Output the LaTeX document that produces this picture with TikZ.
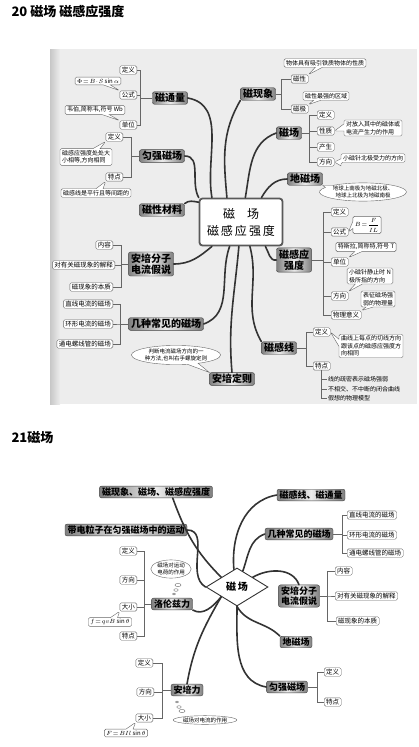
\documentclass[tikz,border=0pt]{standalone}
\usepackage{fontspec}
\setmainfont{Noto Sans CJK SC}
\usetikzlibrary{shapes.callouts,shapes.geometric}

\tikzset{
  topic/.style={draw=black!75, rounded corners=2pt, left color=black!50, right color=black!50, middle color=black!8,
    font=\bfseries\fontsize{10}{11.5}\selectfont, inner xsep=2.5pt, inner ysep=1.5pt, align=center},
  topicb/.style={topic, font=\bfseries\fontsize{9}{10.5}\selectfont},
  item/.style={draw=black!60, fill=white, rounded corners=1.5pt, font=\fontsize{6.5}{7.5}\selectfont, inner xsep=2pt, inner ysep=1.2pt},
  note/.style={rectangle callout, draw=black!60, fill=white, rounded corners=1.5pt, font=\fontsize{6}{7.5}\selectfont,
    inner xsep=2pt, inner ysep=1.5pt, align=left},
  oval/.style={ellipse callout, draw=black!60, fill=white, font=\fontsize{5.5}{6.8}\selectfont, inner sep=0.5pt, align=center},
  thought/.style={ellipse, draw=black!60, fill=white, font=\fontsize{5.5}{6.8}\selectfont, inner sep=0.5pt, align=center},
  link/.style={draw=black!60, line width=0.5pt},
  branch/.style={draw=black!80, line width=1.6pt, line cap=round},
  heading/.style={font=\bfseries\fontsize{13}{15}\selectfont, anchor=west}
}

\begin{document}
\begin{tikzpicture}[x=1pt, y=-1pt]
  \useasboundingbox (0,0) rectangle (419,747);

  % 20 磁场 磁感应强度
  \node[heading] (title1) at (8,12) {20 磁场 磁感应强度};
  \fill[black!7] (50,49) rectangle (417,404);
  \shade[left color=black!22, right color=black!7] (50,49) rectangle (60,404);

  \node[draw=black!65, line width=1.8pt, rounded corners=3pt, fill=white, minimum width=83pt, minimum height=47pt,
    align=center, font=\fontsize{12}{17}\selectfont] (hub) at (241,222) {磁\quad 场\\磁\,感\,应\,强\,度};

  \node[topic] (ct) at (170,98) {磁通量};
  \node[topic] (yq) at (162,156) {匀强磁场};
  \node[topic] (xc) at (162,210) {磁性材料};
  \node[topic] (ap) at (151,264) {安培分子\\电流假说};
  \node[topic] (jz) at (166,324) {几种常见的磁场};
  \node[topic] (ad) at (232,379) {安培定则};
  \node[topic] (gx) at (279,348) {磁感线};
  \node[topic] (gy) at (294,260) {磁感应\\强度};
  \node[topic] (dc) at (305,179) {地磁场};
  \node[topic] (cc) at (289,133) {磁场};
  \node[topic] (xx) at (258,94) {磁现象};

  % 分支
  \draw[branch] (ct.east) to[out=-10,in=100] (hub.140);
  \draw[branch] (yq.east) to[out=0,in=120] (hub.150);
  \draw[branch] (xc.north east) to[out=40,in=170] (hub.155);
  \draw[branch] (xx.south west) to[out=240,in=95] (hub.120);
  \draw[branch] (cc.west) to[out=200,in=80] (hub.80);
  \draw[branch] (dc.west) to[out=180,in=60] (hub.50);
  \draw[branch] (gy.west) to[out=190,in=-60] (hub.-45);
  \draw[branch] (gx.north west) to[out=120,in=-75] (hub.-70);
  \draw[branch] (ad.north) to[out=95,in=-95] (hub.-95);
  \draw[branch] (jz.east) to[out=20,in=-110] (hub.-115);
  \draw[branch] (ap.east) to[out=0,in=-140] (hub.-140);

  % 磁通量
  \node[item, anchor=east] (ctdy) at (137,70) {定义};
  \node[item, anchor=east] (ctgs) at (137,95) {公式};
  \node[item, anchor=east] (ctdw) at (137,125) {单位};
  \foreach \c in {ctdy,ctgs,ctdw} \draw[link] (ct.west) -- ++(-12,0) |- (\c.east);
  \node[note, callout absolute pointer={(ctgs.north west)}] (ctgsn) at (98,81) {$\Phi\!=\!B\!\cdot\! S\sin\alpha$};
  \node[note, callout absolute pointer={(ctdw.north west)}] (ctdwn) at (95,110) {韦伯,简称韦,符号 Wb};

  % 匀强磁场
  \node[item, anchor=east] (yqdy) at (123,137) {定义};
  \node[item, anchor=east] (yqtd) at (123,177) {特点};
  \foreach \c in {yqdy,yqtd} \draw[link] (yq.west) -- ++(-8,0) |- (\c.east);
  \node[note, callout absolute pointer={(yqdy.south west)}] (yqdyn) at (86,157) {磁感应强度处处大\\小相等,方向相同};
  \node[note, callout absolute pointer={(yqtd.south west)}] (yqtdn) at (96,193) {磁感线是平行且等间距的};

  % 安培分子电流假说
  \node[item, anchor=east] (apnr) at (113,245) {内容};
  \node[item, anchor=east] (apjs) at (115,265) {对有关磁现象的解释};
  \node[item, anchor=east] (apbz) at (113,287) {磁现象的本质};
  \foreach \c in {apnr,apjs,apbz} \draw[link] (ap.west) -- ++(-7,0) |- (\c.east);

  % 几种常见的磁场
  \node[item, anchor=east] (jz1) at (113,304) {直线电流的磁场};
  \node[item, anchor=east] (jz2) at (113,324) {环形电流的磁场};
  \node[item, anchor=east] (jz3) at (113,344) {通电螺线管的磁场};
  \foreach \c in {jz1,jz2,jz3} \draw[link] (jz.west) -- ++(-8,0) |- (\c.east);
  \node[oval, callout absolute pointer={(ad.north west)}] (adn) at (176,355) {判断电流磁场方向的一\\种方法,也叫右手螺旋定则};

  % 磁现象
  \node[item, anchor=west] (xxcx) at (291,79) {磁性};
  \node[item, anchor=west] (xxcj) at (291,109) {磁极};
  \foreach \c in {xxcx,xxcj} \draw[link] (xx.east) -- ++(6,0) |- (\c.west);
  \node[note, callout absolute pointer={(xxcx.north east)}] (xxcxn) at (325,63) {物体具有吸引铁质物体的性质};
  \node[note, callout absolute pointer={(xxcj.north east)}] (xxcjn) at (326,96) {磁性最强的区域};

  % 磁场
  \node[item, anchor=west] (ccdy) at (317,115) {定义};
  \node[item, anchor=west] (ccxz) at (317,131) {性质};
  \node[item, anchor=west] (cccs) at (317,147) {产生};
  \node[item, anchor=west] (ccfx) at (317,162) {方向};
  \foreach \c in {ccdy,ccxz,cccs,ccfx} \draw[link] (cc.east) -- ++(8,0) |- (\c.west);
  \node[note, callout absolute pointer={(ccxz.east)}] (ccxzn) at (373,128) {对放入其中的磁体或\\电流产生力的作用};
  \node[note, callout absolute pointer={(ccfx.east)}] (ccfxn) at (373,158) {小磁针北极受力的方向};

  % 地磁场
  \node[oval, callout absolute pointer={(dc.south east)}] (dcn) at (363,192) {地球上南极为地磁北极、\\地球上北极为地磁南极};

  % 磁感应强度
  \node[item, anchor=west] (gydy) at (331,212) {定义};
  \node[item, anchor=west] (gygs) at (331,232) {公式};
  \node[item, anchor=west] (gydw) at (331,262) {单位};
  \node[item, anchor=west] (gyfx) at (331,296) {方向};
  \node[item, anchor=west] (gyyy) at (331,315) {物理意义};
  \foreach \c in {gydy,gygs,gydw,gyfx,gyyy} \draw[link] (gy.east) -- ++(12,0) |- (\c.west);
  \node[note, callout absolute pointer={(gygs.east)}] (gygsn) at (367,225) {$B\!=\!\displaystyle\frac{F}{IL}$};
  \node[note, callout absolute pointer={(gydw.north east)}] (gydwn) at (366,247) {特斯拉,简称特,符号 T};
  \node[note, callout absolute pointer={(gyfx.north east)}] (gyfxn) at (370,276) {小磁针静止时 N\\极所指的方向};
  \node[note, callout absolute pointer={(gyyy.north east)}] (gyyyn) at (378,299) {表征磁场强\\弱的物理量};

  % 磁感线
  \node[item, anchor=west] (gxdy) at (313,332) {定义};
  \node[item, anchor=west] (gxtd) at (313,366) {特点};
  \foreach \c in {gxdy,gxtd} \draw[link] (gx.east) -- ++(10,0) |- (\c.west);
  \node[note, callout absolute pointer={(gxdy.east)}] (gxdyn) at (371,346) {曲线上每点的切线方向\\跟该点的磁感应强度方\\向相同};
  \node[font=\fontsize{6}{7}\selectfont, anchor=west, inner sep=1pt] (gxt1) at (327,379) {线的疏密表示磁场强弱};
  \node[font=\fontsize{6}{7}\selectfont, anchor=west, inner sep=1pt] (gxt2) at (327,389) {不相交、不中断的闭合曲线};
  \node[font=\fontsize{6}{7}\selectfont, anchor=west, inner sep=1pt] (gxt3) at (327,398) {假想的物理模型};
  \foreach \c in {gxt1,gxt2,gxt3} \draw[link] (gxtd.south) |- (\c.west);

  % 21磁场
  \node[heading] (title2) at (8,438) {21磁场};
  \node[diamond, draw=black!80, line width=0.9pt, fill=white, minimum width=62pt, minimum height=38pt, inner sep=0pt,
    font=\bfseries\fontsize{10}{12}\selectfont] (hub2) at (237,587) {磁\,场};

  \node[topicb] (bxc) at (156,492) {磁现象、磁场、磁感应强度};
  \node[topicb] (bdd) at (126,530) {带电粒子在匀强磁场中的运动};
  \node[topicb] (bll) at (172,604) {洛伦兹力};
  \node[topicb] (bal) at (187,690) {安培力};
  \node[topicb] (bgx) at (311,495) {磁感线、磁通量};
  \node[topicb] (bjz) at (299,534) {几种常见的磁场};
  \node[topicb] (bap) at (299,596) {安培分子\\电流假说};
  \node[topicb] (bdc) at (296,642) {地磁场};
  \node[topicb] (byq) at (287,687) {匀强磁场};

  \draw[branch] (bxc.-20) to[out=-70,in=135] (hub2.north west);
  \draw[branch] (bdd.east) to[out=0,in=150] (hub2.west);
  \draw[branch] (bgx.west) to[out=190,in=95] (hub2.100);
  \draw[branch] (bjz.west) to[out=200,in=70] (hub2.70);
  \draw[branch] (bap.north) to[out=110,in=30] (hub2.north east);
  \draw[branch] (bdc.north west) to[out=135,in=-60] (hub2.south);
  \draw[branch] (byq.west) to[out=170,in=-90] (hub2.south);
  \draw[branch] (bal.north) to[out=80,in=-120] (hub2.south west);
  \draw[branch] (bll.south east) to[out=-30,in=-130] (hub2.south west);

  % 洛伦兹力
  \node[item, anchor=east] (lldy) at (137,551) {定义};
  \node[item, anchor=east] (llfx) at (137,580) {方向};
  \node[item, anchor=east] (lldx) at (137,607) {大小};
  \node[item, anchor=east] (lltd) at (137,636) {特点};
  \foreach \c in {lldy,llfx,lldx,lltd} \draw[link] (bll.west) -- ++(-7,0) |- (\c.east);
  \node[note, callout absolute pointer={(lldx.south west)}] (lldxn) at (110,622) {$f\!=\!qvB\sin\theta$};
  \node[thought] (llth) at (171,569) {磁场对运动\\电荷的作用};
  \draw[black!60, fill=white] (178,585) ellipse (3 and 1.6) (176,590) ellipse (2.2 and 1.3) (174,594) ellipse (1.6 and 1);

  % 安培力
  \node[item, anchor=east] (aldy) at (153,663) {定义};
  \node[item, anchor=east] (alfx) at (154,692) {方向};
  \node[item, anchor=east] (aldx) at (153,718) {大小};
  \foreach \c in {aldy,alfx,aldx} \draw[link] (bal.west) -- ++(-9,0) |- (\c.east);
  \node[note, callout absolute pointer={(aldx.south west)}] (aldxn) at (126,733) {$F\!=\!BIl\sin\theta$};
  \node[thought] (alth) at (205,720) {磁场对电流的作用};
  \draw[black!60, fill=white] (177,702) ellipse (1.6 and 1) (179,707) ellipse (2.2 and 1.3) (182,711) ellipse (3 and 1.6);

  % 右侧分组
  \node[item, anchor=west] (bjz1) at (347,515) {直线电流的磁场};
  \node[item, anchor=west] (bjz2) at (347,535) {环形电流的磁场};
  \node[item, anchor=west] (bjz3) at (347,553) {通电螺线管的磁场};
  \foreach \c in {bjz1,bjz2,bjz3} \draw[link] (bjz.east) -- ++(9,0) |- (\c.west);

  \node[item, anchor=west] (bapnr) at (335,571) {内容};
  \node[item, anchor=west] (bapjs) at (335,596) {对有关磁现象的解释};
  \node[item, anchor=west] (bapbz) at (336,621) {磁现象的本质};
  \foreach \c in {bapnr,bapjs,bapbz} \draw[link] (bap.east) -- ++(8,0) |- (\c.west);

  \node[item, anchor=west] (byqdy) at (324,672) {定义};
  \node[item, anchor=west] (byqtd) at (324,702) {特点};
  \foreach \c in {byqdy,byqtd} \draw[link] (byq.east) -- ++(10,0) |- (\c.west);
\end{tikzpicture}
\end{document}
